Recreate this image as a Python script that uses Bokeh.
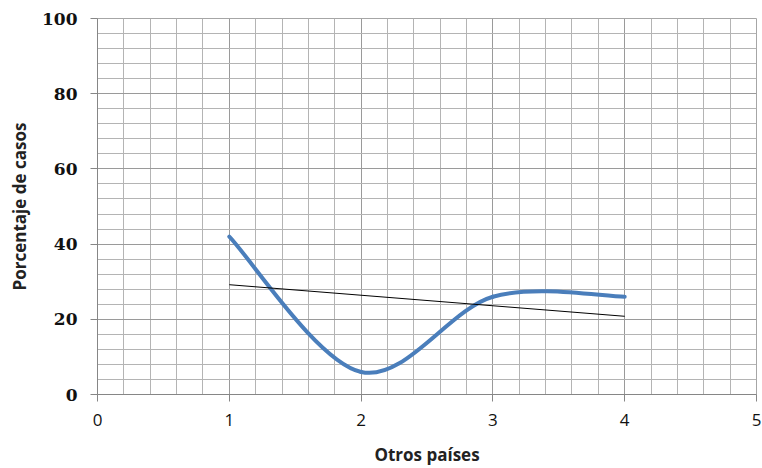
import numpy as np
from bokeh.plotting import figure
from bokeh.models import FixedTicker, Range1d
from bokeh.embed import file_html
from bokeh.resources import INLINE

# Data
x_vals = [1, 2, 3, 4]
y_vals = [42, 6, 26, 26]
x_ticks = [0, 1, 2, 3, 4, 5]
y_ticks = [0, 20, 40, 60, 80, 100]
x_title = "Otros países"
y_title = "Porcentaje de casos"

p = figure(width=762, height=468, output_backend="svg", toolbar_location=None,
           x_range=Range1d(0, 5), y_range=Range1d(0, 100),
           min_border_left=97, min_border_right=6, min_border_top=18, min_border_bottom=73)
p.outline_line_color = "#A6A6A6"
p.background_fill_color = "white"
p.border_fill_color = "white"

x_minor = [i * 0.2 for i in range(26)]
y_minor = [i * 4 for i in range(26)]
p.xaxis.ticker = FixedTicker(ticks=x_ticks, minor_ticks=x_minor)
p.yaxis.ticker = FixedTicker(ticks=y_ticks, minor_ticks=y_minor)

for g in (p.xgrid, p.ygrid):
    g.grid_line_color = "#9A9A9A"
    g.grid_line_width = 1
    g.minor_grid_line_color = "#B4B4B4"
    g.minor_grid_line_width = 1

for ax in (p.xaxis, p.yaxis):
    ax.axis_line_color = "#868686"
    ax.major_tick_line_color = "#868686"
    ax.major_tick_out = 7
    ax.major_tick_in = 0
    ax.minor_tick_line_color = None
    ax.major_label_text_color = "#111111"
    ax.axis_label_text_font = "Open Sans"
    ax.axis_label_text_font_style = "bold"
    ax.axis_label_text_font_size = "17px"
    ax.axis_label_text_color = "#222222"

p.yaxis.major_label_text_font = "DejaVu Serif"
p.yaxis.major_label_text_font_style = "bold"
p.yaxis.major_label_text_font_size = "17px"
p.xaxis.major_label_text_font = "Open Sans"
p.xaxis.major_label_text_font_style = "normal"
p.xaxis.major_label_text_font_size = "17px"
p.xaxis.major_label_text_line_height = 0.8
p.xaxis.axis_label_text_line_height = 0.8

p.xaxis.axis_label = x_title
p.yaxis.axis_label = y_title
p.xaxis.major_label_standoff = 12
p.yaxis.major_label_standoff = 13
p.xaxis.axis_label_standoff = 14
p.yaxis.axis_label_standoff = 8

# Smoothed line (Catmull-Rom style Bezier, like Excel's smoothed line)
P = np.column_stack([x_vals, y_vals]).astype(float)
n = len(P)
x0, y0, x1, y1, cx0, cy0, cx1, cy1 = [], [], [], [], [], [], [], []
for i in range(n - 1):
    pm = P[i - 1] if i > 0 else P[i]
    p0 = P[i]
    p1 = P[i + 1]
    p2 = P[i + 2] if i + 2 < n else P[i + 1]
    c0 = p0 + (p1 - pm) / 6.0
    c1 = p1 - (p2 - p0) / 6.0
    x0.append(p0[0]); y0.append(p0[1]); x1.append(p1[0]); y1.append(p1[1])
    cx0.append(c0[0]); cy0.append(c0[1]); cx1.append(c1[0]); cy1.append(c1[1])

p.bezier(x0=x0, y0=y0, x1=x1, y1=y1, cx0=cx0, cy0=cy0, cx1=cx1, cy1=cy1,
         line_color="#4A7EBB", line_width=4, line_cap="round")

# Linear trendline
m, b = np.polyfit(x_vals, y_vals, 1)
tx = [x_vals[0], x_vals[-1]]
p.line(tx, [m * t + b for t in tx], line_color="black", line_width=1)

open("out.html", "w").write(file_html(p, INLINE))
